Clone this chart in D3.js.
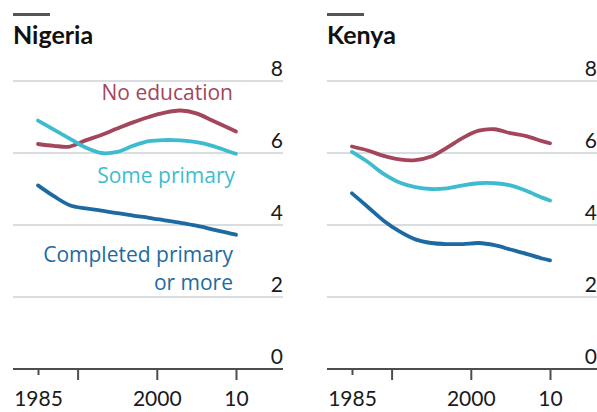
<!DOCTYPE html>
<html>
<head>
<meta charset="utf-8">
<script src="https://cdn.jsdelivr.net/npm/d3@7"></script>
<style>
	body { margin: 0; background: #fff; }
	svg { font-family: Lato, "Open Sans", sans-serif; }
</style>
</head>
<body>
<div id="chart"></div>
<script>

// values (births per woman)
const years = [1985, 1987, 1989, 1991, 1993, 1995, 1997, 1999, 2001, 2003, 2005, 2007, 2009, 2010];

const nigeriaNoEducation = [6.25, 6.2, 6.18, 6.35, 6.5, 6.68, 6.85, 7.0, 7.12, 7.18, 7.1, 6.9, 6.7, 6.6];
const nigeriaSomePrimary = [6.9, 6.65, 6.4, 6.15, 6.0, 6.03, 6.2, 6.33, 6.36, 6.35, 6.3, 6.2, 6.05, 5.98];
const nigeriaCompleted = [5.1, 4.8, 4.55, 4.46, 4.4, 4.33, 4.26, 4.2, 4.13, 4.06, 3.98, 3.88, 3.78, 3.73];

const kenyaNoEducation = [6.18, 6.07, 5.92, 5.82, 5.8, 5.9, 6.15, 6.42, 6.62, 6.66, 6.55, 6.47, 6.33, 6.27];
const kenyaSomePrimary = [6.03, 5.75, 5.42, 5.18, 5.05, 5.0, 5.02, 5.1, 5.16, 5.16, 5.1, 4.95, 4.76, 4.68];
const kenyaCompleted = [4.88, 4.5, 4.12, 3.82, 3.6, 3.5, 3.47, 3.47, 3.5, 3.44, 3.32, 3.2, 3.07, 3.02];

const yTicks = [0, 2, 4, 6, 8];
const xTicks = [1985, 1990, 2000, 2010];
const xTickLabels = {1985: "1985", 1990: "", 2000: "2000", 2010: "10"};

const colors = {
	noEdu: "#a3465b",
	some: "#3dbcd0",
	completed: "#1d6aa3"
};

const W = 597, H = 412;
const panelW = 270;

const svg = d3.select("#chart").append("svg")
	.attr("width", W)
	.attr("height", H);

// same scales for both panels
const x = d3.scaleLinear().domain([1985, 2010]).range([25, 223]);
const y = d3.scaleLinear().domain([0, 8]).range([369, 81]);

function drawPanel(left, title, series, labels){
	let g = svg.append("g").attr("transform", "translate(" + left + ",0)");

	// little bar above the title
	g.append("rect")
		.attr("x", 0).attr("y", 13)
		.attr("width", 37).attr("height", 3)
		.attr("fill", "#555");

	g.append("text")
		.attr("x", 0).attr("y", 44)
		.attr("font-size", 25)
		.attr("font-weight", 700)
		.attr("fill", "#111")
		.text(title);

	// gridlines
	g.selectAll(".grid")
		.data(yTicks.filter(d => d > 0))
		.enter().append("line")
		.attr("class", "grid")
		.attr("x1", 0).attr("x2", panelW)
		.attr("y1", d => y(d)).attr("y2", d => y(d))
		.attr("stroke", "#cdd2d5")
		.attr("stroke-width", 1.5);

	// y labels sit on top of the right end of gridlines
	g.selectAll(".ylab")
		.data(yTicks)
		.enter().append("text")
		.attr("class", "ylab")
		.attr("x", panelW)
		.attr("y", d => y(d) - 5)
		.attr("text-anchor", "end")
		.attr("font-size", 21)
		.attr("fill", "#1a1a1a")
		.text(d => d);

	// x axis
	let xAxis = d3.axisBottom(x)
		.tickValues(xTicks)
		.tickSize(11)
		.tickPadding(11)
		.tickFormat(d => xTickLabels[d]);

	let ax = g.append("g")
		.attr("transform", "translate(0," + y(0) + ")")
		.call(xAxis);

	ax.select(".domain").remove();
	ax.append("line")
		.attr("x1", 0).attr("x2", panelW)
		.attr("stroke", "#4d4d4d")
		.attr("stroke-width", 2);
	ax.selectAll(".tick line")
		.attr("stroke", "#4d4d4d")
		.attr("stroke-width", 2)
		.attr("y2", d => d === 1985 ? 6 : 11);
	ax.selectAll(".tick text")
		.attr("font-family", "Lato, 'Open Sans', sans-serif")
		.attr("font-size", 21)
		.attr("fill", "#1a1a1a");

	// labels with white knockout behind them
	labels.forEach(function(l){
		let t = g.append("text")
			.attr("x", l.x).attr("y", l.y)
			.attr("text-anchor", "end")
			.attr("font-family", "'Open Sans', sans-serif")
			.attr("font-size", 21)
			.attr("fill", l.color)
			.text(l.text);
		if(l.knockout){
			let b = t.node().getBBox();
			g.insert("rect", "text")
				.attr("x", b.x - 10).attr("y", b.y - 4)
				.attr("width", b.width + 20).attr("height", b.height + 8)
				.attr("fill", "#fff");
		}
	});

	let line = d3.line()
		.x((d, i) => x(years[i]))
		.y(d => y(d))
		.curve(d3.curveCatmullRom.alpha(0.5));

	series.forEach(function(s){
		g.append("path")
			.datum(s.values)
			.attr("d", line)
			.attr("fill", "none")
			.attr("stroke", s.color)
			.attr("stroke-width", 3.8)
			.attr("stroke-linecap", "round")
			.attr("stroke-linejoin", "round");
	});
}

drawPanel(13, "Nigeria", [
	{values: nigeriaNoEducation, color: colors.noEdu},
	{values: nigeriaSomePrimary, color: colors.some},
	{values: nigeriaCompleted, color: colors.completed}
], [
	{text: "No education", x: 220, y: 100, color: colors.noEdu, knockout: true},
	{text: "Some primary", x: 222, y: 183, color: colors.some},
	{text: "Completed primary", x: 220, y: 262, color: colors.completed},
	{text: "or more", x: 220, y: 290, color: colors.completed}
]);

drawPanel(327, "Kenya", [
	{values: kenyaNoEducation, color: colors.noEdu},
	{values: kenyaSomePrimary, color: colors.some},
	{values: kenyaCompleted, color: colors.completed}
], []);

</script>
</body>
</html>
